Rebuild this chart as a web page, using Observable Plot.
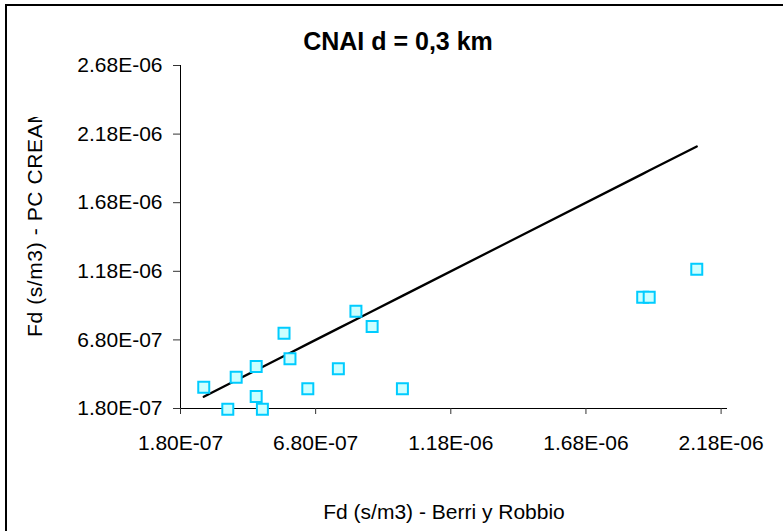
<!DOCTYPE html>
<html>
<head>
<meta charset="utf-8">
<script src="https://cdn.jsdelivr.net/npm/d3@7"></script>
<script src="https://cdn.jsdelivr.net/npm/@observablehq/plot@0.6"></script>
<style>
  html, body { margin: 0; padding: 0; background: #fff; }
  #chart svg { display: block; }
</style>
</head>
<body>
<div id="chart"></div>
<script>
// Dose factors Fd (s/m3): Berri y Robbio model vs PC CREAM, CNAI at 0.3 km
const berri   = [2.66e-7, 3.55e-7, 3.86e-7, 4.60e-7, 4.60e-7, 4.83e-7, 5.63e-7, 5.85e-7,
                 6.51e-7, 7.64e-7, 8.29e-7, 8.89e-7, 1.001e-6, 1.890e-6, 1.914e-6, 2.090e-6];
const pcCream = [3.35e-7, 1.75e-7, 4.08e-7, 4.86e-7, 2.68e-7, 1.75e-7, 7.29e-7, 5.42e-7,
                 3.24e-7, 4.69e-7, 8.89e-7, 7.78e-7, 3.24e-7, 9.91e-7, 9.91e-7, 1.195e-6];

const xTicks = [1.8e-7, 6.8e-7, 1.18e-6, 1.68e-6, 2.18e-6];
const yTicks = [1.8e-7, 6.8e-7, 1.18e-6, 1.68e-6, 2.18e-6, 2.68e-6];

const title  = "CNAI d = 0,3 km";
const xLabel = "Fd (s/m3) - Berri y Robbio";
const yLabel = "Fd (s/m3) - PC CREAM";

// Spreadsheet-style scientific notation: 1.80E-07
const sci = v => {
  const [m, e] = v.toExponential(2).split("e");
  const sign = e[0] === "-" ? "-" : "+";
  return `${m}E${sign}${e.replace(/[+-]/, "").padStart(2, "0")}`;
};

const points = berri.map((b, i) => ({b, p: pcCream[i]}));
// 1:1 reference line across the range of the Berri y Robbio values
const oneToOne = [...berri].sort((a, b) => a - b).map(v => ({b: v, p: v}));

const W = 783, H = 531;
const svg = Plot.plot({
  width: W,
  height: H,
  marginLeft: 180,
  marginRight: 57,
  marginTop: 65,
  marginBottom: 123,
  style: {fontFamily: "'Liberation Sans', Arial, sans-serif", fontSize: "21px", color: "#000", background: "#fff"},
  x: {domain: [1.8e-7, 2.2e-6], ticks: xTicks, tickFormat: sci, tickSize: 6, tickPadding: 21, line: true, label: null},
  y: {domain: [1.8e-7, 2.68e-6], ticks: yTicks, tickFormat: sci, tickSize: 7, tickPadding: 11, line: true, label: null},
  marks: [
    Plot.line(oneToOne, {x: "b", y: "p", stroke: "#000", strokeWidth: 2.3}),
    Plot.dot(points, {x: "b", y: "p", symbol: "square", r: 6.2, stroke: "#00CCFF", strokeWidth: 2, fill: "#CCFFFF", fillOpacity: 1})
  ]
});

const s = d3.select(svg);
s.selectAll("[aria-label='x-axis'] path, [aria-label='y-axis'] path, [aria-label='x-axis tick'], [aria-label='y-axis tick']")
  .attr("stroke", "#333");

// outer chart border
s.append("rect")
  .attr("x", 6).attr("y", 5).attr("width", W + 20).attr("height", H + 20)
  .attr("fill", "none").attr("stroke", "#000").attr("stroke-width", 2);

s.append("text")
  .attr("x", 398).attr("y", 50)
  .attr("text-anchor", "middle")
  .attr("font-weight", "bold").attr("font-size", 25)
  .attr("fill", "#000")
  .text(title);

s.append("text")
  .attr("x", 444).attr("y", 519)
  .attr("text-anchor", "middle")
  .attr("font-size", 21)
  .attr("fill", "#000")
  .text(xLabel);

// y label is cut off at the top edge of its box
const clipId = "ylabel-clip";
s.append("clipPath").attr("id", clipId)
  .append("rect").attr("x", 0).attr("y", 117).attr("width", 120).attr("height", 400);
s.append("g").attr("clip-path", `url(#${clipId})`)
  .append("text")
  .attr("transform", "translate(42,337) rotate(-90)")
  .attr("text-anchor", "start")
  .attr("font-size", 21)
  .attr("letter-spacing", 0.6)
  .attr("fill", "#000")
  .text(yLabel);

document.getElementById("chart").appendChild(svg);
</script>
</body>
</html>
